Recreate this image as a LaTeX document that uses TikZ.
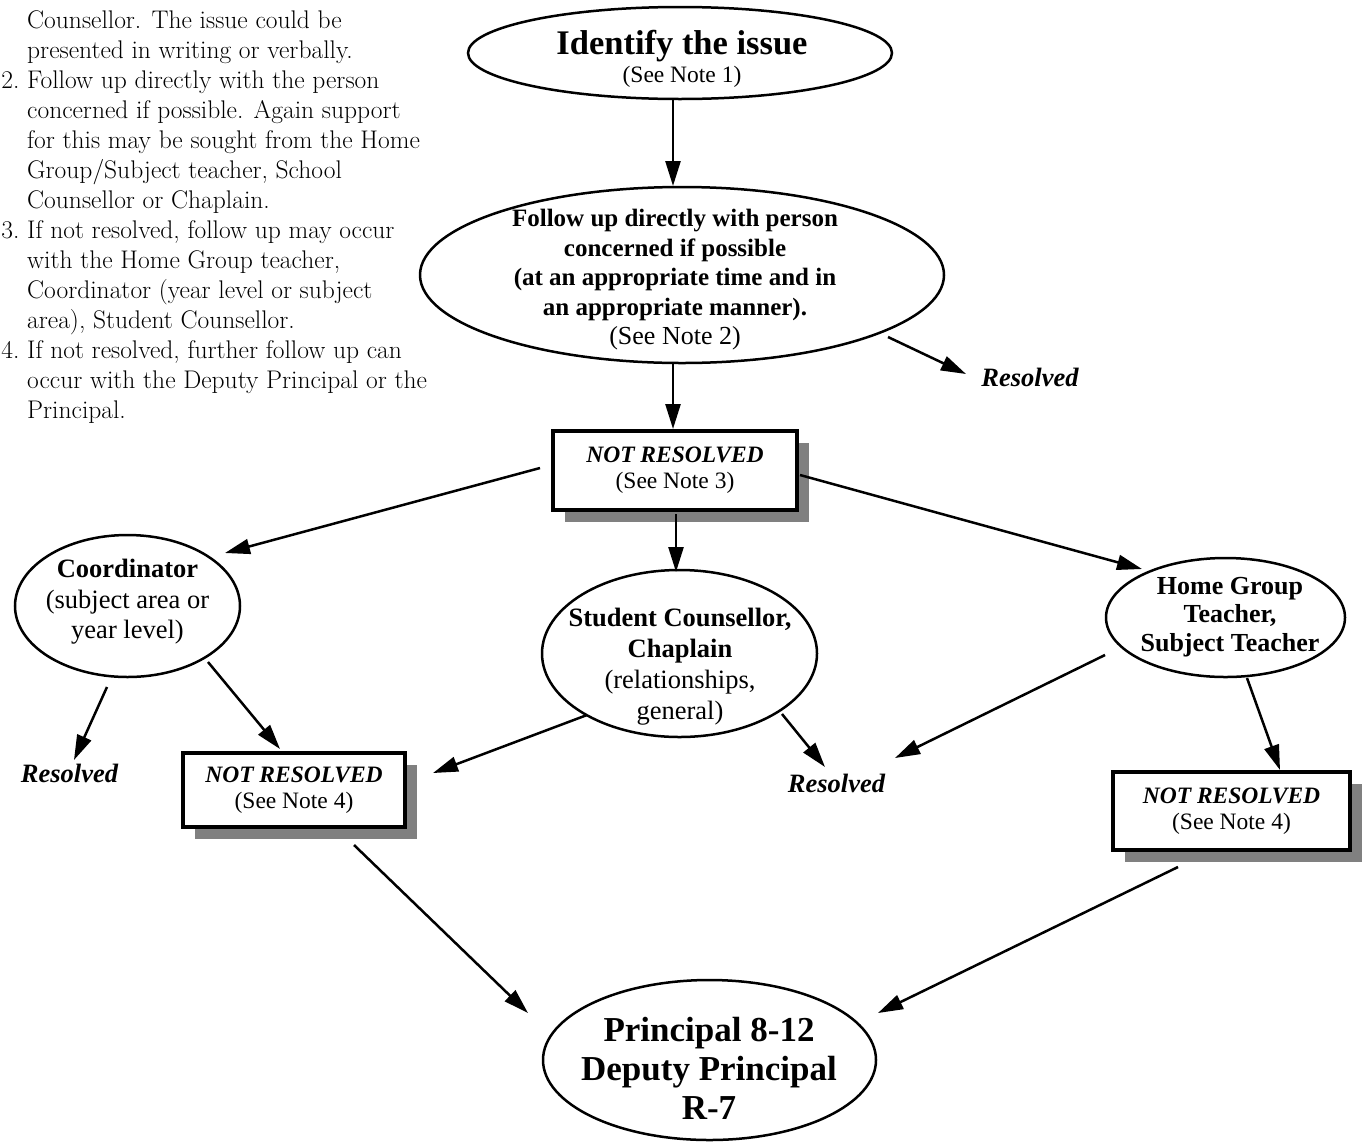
\documentclass[tikz,border=0pt]{standalone}
\usepackage{fontspec}
\newfontfamily\tnr{Liberation Serif}
\usetikzlibrary{shapes.geometric,arrows.meta,shadows,calc}
\definecolor{shadowgray}{RGB}{128,128,128}
\begin{document}
\begin{tikzpicture}[x=1pt,y=-1pt,
  ell/.style={draw, line width=2.5pt, ellipse, inner sep=0pt},
  txt/.style={inner sep=0pt, align=center},
  nrbox/.style={draw, line width=4pt, fill=white, inner sep=0pt, align=center,
    font=\tnr\fontsize{23.5}{26}\selectfont,
    drop shadow={shadow xshift=12pt, shadow yshift=-12pt, fill=shadowgray, opacity=1}},
  res/.style={inner sep=0pt, anchor=base, font=\tnr\bfseries\itshape\fontsize{26.5}{30}\selectfont},
  arr/.style={line width=2.5pt, -{Triangle[length=25pt,width=15pt]}},
  note/.style={inner sep=0pt, anchor=base west, font=\fontsize{25.5}{30}\selectfont}
]
\useasboundingbox (0,0) rectangle (1364,1141);

% notes
\foreach \ntxt [count=\i from 0] in {
  {Counsellor. The issue could be},
  {presented in writing or verbally.},
  {\llap{2.\ }Follow up directly with the person},
  {concerned if possible. Again support},
  {for this may be sought from the Home},
  {Group/Subject teacher, School},
  {Counsellor or Chaplain.},
  {\llap{3.\ }If not resolved, follow up may occur},
  {with the Home Group teacher,},
  {Coordinator (year level or subject},
  {area), Student Counsellor.},
  {\llap{4.\ }If not resolved, further follow up can},
  {occur with the Deputy Principal or the},
  {Principal.}}
  \node[note] (note\i) at (27,{28+30*\i}) {\ntxt};

% ellipses
\node[ell, minimum width=424pt, minimum height=92pt] (top) at (680,53) {};
\node[txt, font=\tnr\fontsize{23.5}{28}\selectfont] (topt) at (682,59)
  {{\fontsize{34.5}{28}\selectfont\bfseries Identify the issue}\\(See Note 1)};

\node[ell, minimum width=524pt, minimum height=176pt] (e2) at (682,275) {};
\node[txt, font=\tnr\bfseries\fontsize{25}{29.5}\selectfont] (e2t) at (675,280)
  {Follow up directly with person\\concerned if possible\\(at an appropriate time and in\\an appropriate manner).\\{\mdseries\fontsize{26}{29.5}\selectfont (See Note 2)}};

\node[ell, minimum width=225pt, minimum height=142pt] (coord) at (127.5,606) {};
\node[txt, font=\tnr\fontsize{26.5}{30.5}\selectfont] (coordt) at (127.5,602)
  {\textbf{Coordinator}\\(subject area or\\year level)};

\node[ell, minimum width=275pt, minimum height=167pt] (sc) at (679.5,653.5) {};
\node[txt, font=\tnr\fontsize{26.5}{31}\selectfont] (sct) at (680,667)
  {\textbf{Student Counsellor,}\\\textbf{Chaplain}\\(relationships,\\general)};

\node[ell, minimum width=239pt, minimum height=119pt] (hg) at (1225.5,617.5) {};
\node[txt, font=\tnr\bfseries\fontsize{26}{28.5}\selectfont] (hgt) at (1230,617)
  {Home Group\\Teacher,\\Subject Teacher};

\node[ell, minimum width=333pt, minimum height=160pt] (prin) at (709.5,1060) {};
\node[txt, font=\tnr\bfseries\fontsize{35}{39}\selectfont] (print) at (709,1068)
  {Principal 8-12\\Deputy Principal\\R-7};

% boxes
\node[nrbox, minimum width=244pt, minimum height=79pt] (nr3) at (675,470.5)
  {\textbf{\textit{NOT RESOLVED}}\\(See Note 3)};
\node[nrbox, minimum width=222pt, minimum height=74pt] (nr4a) at (294,790)
  {\textbf{\textit{NOT RESOLVED}}\\(See Note 4)};
\node[nrbox, minimum width=237pt, minimum height=78pt] (nr4b) at (1231.5,811)
  {\textbf{\textit{NOT RESOLVED}}\\(See Note 4)};

% resolved labels
\node[res] (res1) at (1030,386) {Resolved};
\node[res] (res2) at (69.5,782) {Resolved};
\node[res] (res3) at (836.5,792) {Resolved};

% connectors
\draw[arr] ($(top.center)+(-7,47)$) -- ($(e2.center)+(-9,-89)$);
\draw[arr] ($(e2.center)+(206,62)$) -- ($(res1.base)+(-64,-12)$);
\draw[arr] ($(e2.center)+(-9,89)$) -- ($(nr3.center)+(-2,-41.5)$);
\draw[arr] ($(nr3.center)+(-135,-2.5)$) -- ($(coord.center)+(97.5,-53)$);
\draw[arr] ($(nr3.center)+(1,43.5)$) -- ($(sc.center)+(-3.5,-81.5)$);
\draw[arr] ($(nr3.center)+(125,4.5)$) -- ($(hg.center)+(-83.5,-48.5)$);
\draw[arr] ($(coord.center)+(-20.5,81)$) -- ($(res2.base)+(4.5,-22)$);
\draw[arr] ($(coord.center)+(80.5,56)$) -- ($(nr4a.center)+(-14,-41)$);
\draw[arr] ($(sc.center)+(-92.5,61.5)$) -- ($(nr4a.center)+(139,-17)$);
\draw[arr] ($(sc.center)+(102.5,60.5)$) -- ($(res3.base)+(-11.5,-25)$);
\draw[arr] ($(hg.center)+(-120.5,37.5)$) -- ($(res3.base)+(58.5,-34)$);
\draw[arr] ($(hg.center)+(21.5,60.5)$) -- ($(nr4b.center)+(48.5,-41)$);
\draw[arr] ($(nr4a.center)+(60,55)$) -- ($(prin.center)+(-181.5,-47)$);
\draw[arr] ($(nr4b.center)+(-53.5,56)$) -- ($(prin.center)+(168.5,-47)$);
\end{tikzpicture}
\end{document}
